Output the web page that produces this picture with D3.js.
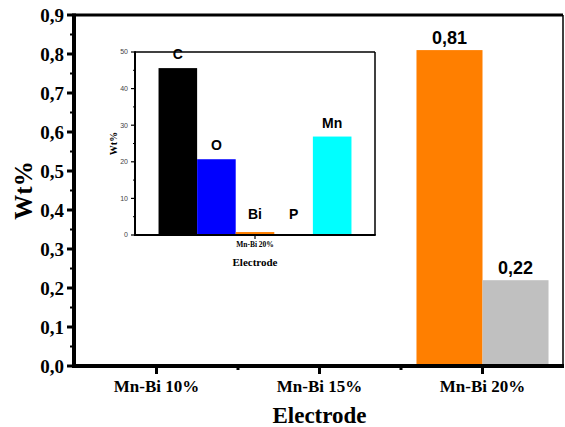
<!DOCTYPE html>
<html>
<head>
<meta charset="utf-8">
<script src="https://cdn.jsdelivr.net/npm/d3@7"></script>
<style>
  body { margin: 0; background: #fff; }
</style>
</head>
<body>
<svg id="chart"></svg>
<script>
// main chart data
const electrodes = ["Mn-Bi 10%", "Mn-Bi 15%", "Mn-Bi 20%"];
const seriesNames = ["Bi", "P"];
const biValues = [0, 0, 0.81];
const pValues = [0, 0, 0.22];
const yTicks = [0, 0.1, 0.2, 0.3, 0.4, 0.5, 0.6, 0.7, 0.8, 0.9];

// inset data (Mn-Bi 20%)
const elements = ["C", "O", "Bi", "P", "Mn"];
const elementValues = [45.6, 20.7, 0.81, 0.22, 26.9];
const insetTicks = [0, 10, 20, 30, 40, 50];

const colors = { Bi: "#ff7f00", P: "#c0c0c0", C: "#000000", O: "#0000ff", Mn: "#00ffff" };

const SERIF = "'Liberation Serif', 'Times New Roman', Times, serif";
const SANS = "'Liberation Sans', Arial, Helvetica, sans-serif";

const width = 565, height = 427;
const svg = d3.select("#chart").attr("width", width).attr("height", height);

// ---------- main plot ----------
const mLeft = 75, mRight = 564, mTop = 15, mBottom = 366;

const x0 = d3.scaleBand().domain(electrodes).range([mLeft, mRight])
  .paddingInner(0.19).paddingOuter(0.095);
const x1 = d3.scaleBand().domain(seriesNames).range([0, x0.bandwidth()]);
const y = d3.scaleLinear().domain([0, 0.9]).range([mBottom, mTop]);

const rows = electrodes.map((e, i) => ({
  name: e,
  values: [{ key: "Bi", v: biValues[i] }, { key: "P", v: pValues[i] }],
}));

const groups = svg.append("g").selectAll("g").data(rows).join("g")
  .attr("transform", (d) => `translate(${x0(d.name)},0)`);

groups.selectAll("rect").data((d) => d.values.filter((s) => s.v > 0)).join("rect")
  .attr("x", (d) => x1(d.key))
  .attr("width", x1.bandwidth())
  .attr("y", (d) => y(d.v))
  .attr("height", (d) => y(0) - y(d.v))
  .attr("fill", (d) => colors[d.key]);

groups.selectAll("text").data((d) => d.values.filter((s) => s.v > 0)).join("text")
  .style("font-family", SANS).style("font-weight", "bold")
  .attr("x", (d) => x1(d.key) + x1.bandwidth() / 2)
  .attr("y", (d) => y(d.v) - 6)
  .attr("text-anchor", "middle")
  .style("font-size", "18px")
  .text((d) => d3.format(".2f")(d.v).replace(".", ","));

// frame: thin top/right, thick left/bottom
svg.append("line").attr("x1", mLeft - 1).attr("x2", mRight - 1).attr("y1", mTop).attr("y2", mTop)
  .attr("stroke", "#000").attr("stroke-width", 3);
svg.append("line").attr("x1", mRight - 1).attr("x2", mRight - 1).attr("y1", mTop).attr("y2", mBottom)
  .attr("stroke", "#000").attr("stroke-width", 1.5);

// y axis
const yAxis = svg.append("g");
yAxis.append("line").attr("x1", mLeft - 1).attr("x2", mLeft - 1).attr("y1", mTop - 1.5).attr("y2", mBottom + 2)
  .attr("stroke", "#000").attr("stroke-width", 4);
yAxis.selectAll(".major").data(yTicks).join("line")
  .attr("x1", mLeft - 8).attr("x2", mLeft - 1)
  .attr("y1", (d) => y(d)).attr("y2", (d) => y(d))
  .attr("stroke", "#000").attr("stroke-width", 3);
yAxis.selectAll(".minor").data(yTicks.slice(0, -1)).join("line")
  .attr("x1", mLeft - 5).attr("x2", mLeft - 1)
  .attr("y1", (d) => y(d + 0.05)).attr("y2", (d) => y(d + 0.05))
  .attr("stroke", "#000").attr("stroke-width", 2);
yAxis.selectAll("text").data(yTicks).join("text")
  .style("font-family", SERIF).style("font-weight", "bold")
  .attr("x", mLeft - 11).attr("y", (d) => y(d))
  .attr("dy", "0.35em")
  .attr("text-anchor", "end")
  .style("font-size", "19px")
  .text((d) => d3.format(".1f")(d).replace(".", ","));

// x axis
const xAxis = svg.append("g");
xAxis.append("line").attr("x1", mLeft - 3).attr("x2", mRight).attr("y1", mBottom).attr("y2", mBottom)
  .attr("stroke", "#000").attr("stroke-width", 4);
xAxis.selectAll(".major").data(electrodes).join("line")
  .attr("x1", (d) => x0(d) + x0.bandwidth() / 2).attr("x2", (d) => x0(d) + x0.bandwidth() / 2)
  .attr("y1", mBottom).attr("y2", mBottom + 8)
  .attr("stroke", "#000").attr("stroke-width", 3);
xAxis.selectAll(".minor").data(electrodes.slice(1)).join("line")
  .attr("x1", (d) => x0(d) - (x0.step() - x0.bandwidth()) / 2)
  .attr("x2", (d) => x0(d) - (x0.step() - x0.bandwidth()) / 2)
  .attr("y1", mBottom).attr("y2", mBottom + 4)
  .attr("stroke", "#000").attr("stroke-width", 3);
xAxis.selectAll("text").data(electrodes).join("text")
  .style("font-family", SERIF).style("font-weight", "bold")
  .attr("x", (d) => x0(d) + x0.bandwidth() / 2)
  .attr("y", mBottom + 26)
  .attr("text-anchor", "middle")
  .style("font-size", "17px")
  .text((d) => d);

svg.append("text")
  .style("font-family", SERIF).style("font-weight", "bold")
  .attr("x", (mLeft + mRight) / 2).attr("y", 423)
  .attr("text-anchor", "middle").style("font-size", "23px")
  .text("Electrode");

svg.append("text")
  .style("font-family", SERIF).style("font-weight", "bold")
  .attr("transform", `translate(32,${(mTop + mBottom) / 2}) rotate(-90)`)
  .attr("text-anchor", "middle").style("font-size", "25px")
  .text("Wt%");

// ---------- inset ----------
const iLeft = 135, iRight = 375, iTop = 52, iBottom = 235;
const ix = d3.scaleBand().domain(elements).range([iLeft, iRight])
  .paddingInner(0).paddingOuter(0.61);
const iy = d3.scaleLinear().domain([0, 50]).range([iBottom, iTop]);
const inset = svg.append("g");

inset.selectAll("rect").data(elements).join("rect")
  .attr("x", (d) => ix(d))
  .attr("width", ix.bandwidth())
  .attr("y", (d, i) => iy(elementValues[i]))
  .attr("height", (d, i) => iy(0) - iy(elementValues[i]))
  .attr("fill", (d) => colors[d]);

inset.selectAll(".lbl").data(elements).join("text")
  .style("font-family", SANS).style("font-weight", "bold")
  .attr("x", (d) => ix(d) + ix.bandwidth() / 2)
  .attr("y", (d, i) => Math.min(iy(elementValues[i]), iBottom - 7) - 9)
  .attr("text-anchor", "middle")
  .style("font-size", "14px")
  .text((d) => d);

// inset frame
inset.append("line").attr("x1", iLeft).attr("x2", iRight).attr("y1", iTop).attr("y2", iTop)
  .attr("stroke", "#000").attr("stroke-width", 1.5);
inset.append("line").attr("x1", iRight).attr("x2", iRight).attr("y1", iTop).attr("y2", iBottom)
  .attr("stroke", "#000").attr("stroke-width", 1.5);
inset.append("line").attr("x1", iLeft).attr("x2", iLeft).attr("y1", iTop - 0.75).attr("y2", iBottom + 1)
  .attr("stroke", "#000").attr("stroke-width", 2);
inset.append("line").attr("x1", iLeft - 1).attr("x2", iRight + 0.75).attr("y1", iBottom).attr("y2", iBottom)
  .attr("stroke", "#000").attr("stroke-width", 2);

inset.selectAll(".itick").data(insetTicks).join("line")
  .attr("x1", iLeft - 4).attr("x2", iLeft)
  .attr("y1", (d) => iy(d)).attr("y2", (d) => iy(d))
  .attr("stroke", "#000").attr("stroke-width", 1.2);
inset.selectAll(".iminor").data(insetTicks.slice(0, -1)).join("line")
  .attr("x1", iLeft - 2).attr("x2", iLeft)
  .attr("y1", (d) => iy(d + 5)).attr("y2", (d) => iy(d + 5))
  .attr("stroke", "#000").attr("stroke-width", 1);
inset.selectAll(".ilab").data(insetTicks).join("text")
  .attr("x", iLeft - 7).attr("y", (d) => iy(d))
  .attr("dy", "0.35em").attr("text-anchor", "end")
  .style("font-family", SANS)
  .style("font-size", "7px").attr("fill", "#444")
  .text((d) => d);

inset.append("line")
  .attr("x1", (iLeft + iRight) / 2).attr("x2", (iLeft + iRight) / 2)
  .attr("y1", iBottom).attr("y2", iBottom + 4)
  .attr("stroke", "#000").attr("stroke-width", 1.2);
inset.append("text")
  .style("font-family", SERIF).style("font-weight", "bold")
  .attr("x", (iLeft + iRight) / 2).attr("y", 247)
  .attr("text-anchor", "middle").style("font-size", "7.5px")
  .text("Mn-Bi 20%");
inset.append("text")
  .style("font-family", SERIF).style("font-weight", "bold")
  .attr("x", (iLeft + iRight) / 2).attr("y", 266)
  .attr("text-anchor", "middle").style("font-size", "11px")
  .text("Electrode");
inset.append("text")
  .style("font-family", SERIF).style("font-weight", "bold")
  .attr("transform", `translate(117,${(iTop + iBottom) / 2}) rotate(-90)`)
  .attr("text-anchor", "middle").style("font-size", "10px")
  .text("Wt%");
</script>
</body>
</html>
